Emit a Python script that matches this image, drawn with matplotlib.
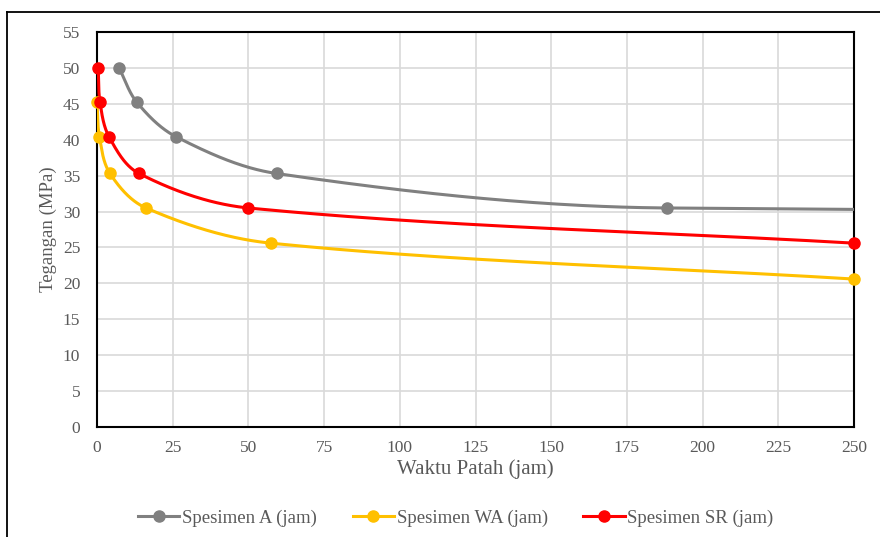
import matplotlib.pyplot as plt
import numpy as np
from matplotlib.lines import Line2D

plt.rcParams['font.family'] = ['Liberation Serif', 'DejaVu Serif']

# waktu patah (jam) dan tegangan (MPa) tiap spesimen
waktu_a = [7.3, 13.2, 26.2, 59.3, 188.2, 3000]
tegangan_a = [50, 45.2, 40.4, 35.3, 30.5, 25.6]

waktu_wa = [0, 0.8, 4.3, 16.2, 57.4, 250]
tegangan_wa = [45.2, 40.4, 35.3, 30.5, 25.6, 20.6]

waktu_sr = [0.4, 1.0, 4.0, 13.9, 50.0, 250]
tegangan_sr = [50, 45.2, 40.4, 35.3, 30.5, 25.6]

label_seri = ['Spesimen A (jam)', 'Spesimen WA (jam)', 'Spesimen SR (jam)']
warna_seri = ['#808080', '#FFC000', '#FF0000']

x_ticks = list(range(0, 251, 25))
y_ticks = list(range(0, 56, 5))


def kurva_halus(x, y, n=80, sy=2.37):
    # garis halus: bezier kubik antar titik, arah singgung dari titik tetangga
    p = np.column_stack([x, np.asarray(y) * sy]).astype(float)
    m = len(p)
    d = np.zeros_like(p)
    for i in range(m):
        a = p[max(i - 1, 0)]
        b = p[min(i + 1, m - 1)]
        v = b - a
        d[i] = v / np.hypot(*v)
    t = np.linspace(0, 1, n)[:, None]
    hasil = []
    for i in range(m - 1):
        p1, p2 = p[i], p[i + 1]
        L = np.hypot(*(p2 - p1)) / 3
        c1 = p1 + d[i] * L
        c2 = p2 - d[i + 1] * L
        seg = ((1 - t) ** 3) * p1 + 3 * ((1 - t) ** 2) * t * c1 \
            + 3 * (1 - t) * t ** 2 * c2 + t ** 3 * p2
        hasil.append(seg)
    hasil = np.vstack(hasil)
    return hasil[:, 0], hasil[:, 1] / sy


fig = plt.figure(figsize=(8.8, 5.37), dpi=100)
ax = fig.add_axes([0.1102, 0.2048, 0.8603, 0.7356])

teks = '#595959'
for wx, ty, c in zip([waktu_a, waktu_wa, waktu_sr],
                     [tegangan_a, tegangan_wa, tegangan_sr], warna_seri):
    xs, ys = kurva_halus(wx, ty)
    ax.plot(xs, ys, color=c, lw=2.2, zorder=3)
    wx = np.array(wx)
    ty = np.array(ty)
    ok = wx <= 250
    ax.plot(wx[ok], ty[ok], 'o', color=c, ms=8, zorder=4, clip_on=False)

ax.set_xlim(0, 250)
ax.set_ylim(0, 55)
ax.set_xticks(x_ticks)
ax.set_yticks(y_ticks)
ax.grid(True, color='#d9d9d9', lw=1.2)
ax.set_axisbelow(True)
ax.tick_params(length=0, labelsize=12.5, labelcolor=teks)
ax.tick_params(axis='y', pad=12)
ax.tick_params(axis='x', pad=9)
for s in ax.spines.values():
    s.set_color('black')
    s.set_linewidth(1.5)

ax.set_xlabel('Waktu Patah (jam)', fontsize=15, color=teks, labelpad=3)
ax.set_ylabel('Tegangan (MPa)', fontsize=13.5, color=teks, labelpad=4)

handles = [Line2D([], [], color=c, lw=2.2, marker='o', ms=8) for c in warna_seri]
fig.legend(handles, label_seri, loc='center', bbox_to_anchor=(0.518, 0.035),
           ncol=3, frameon=False, fontsize=13.5, labelcolor=teks,
           handlelength=2.2, handletextpad=0.15, columnspacing=1.9)

# bingkai luar grafik
fig.add_artist(Line2D([7 / 880, 7 / 880], [0, 1 - 12 / 537], color='black', lw=1.3))
fig.add_artist(Line2D([7 / 880, 1], [1 - 12 / 537, 1 - 12 / 537], color='black', lw=1.3))

fig.savefig('out.png', dpi=100)
